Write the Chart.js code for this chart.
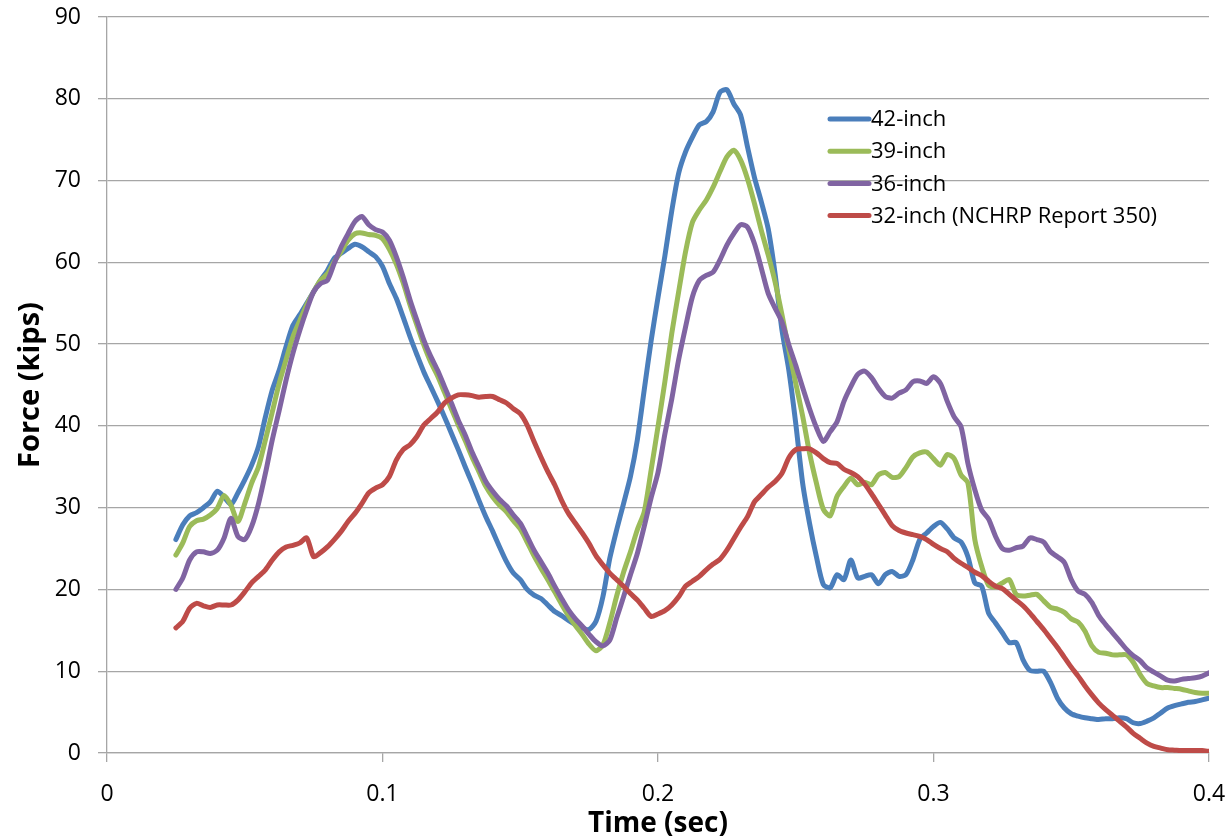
<!DOCTYPE html>
<html>
<head>
<meta charset="utf-8">
<script src="https://cdn.jsdelivr.net/npm/chart.js@4.4.0/dist/chart.umd.min.js"></script>
<style>
    html, body { margin: 0; padding: 0; background: #fff; }
    canvas { display: block; }
</style>
</head>
<body>
<canvas id="forceChart" width="1229" height="838"></canvas>
<script>
// Time (sec), one sample every 2.5 ms
const times = [
    0.025, 0.0275, 0.03, 0.0325, 0.035, 0.0375, 0.04, 0.0425, 0.045, 0.0475,
    0.05, 0.0525, 0.055, 0.0575, 0.06, 0.0625, 0.065, 0.0675, 0.07, 0.0725,
    0.075, 0.0775, 0.08, 0.0825, 0.085, 0.0875, 0.09, 0.0925, 0.095, 0.0975,
    0.1, 0.1025, 0.105, 0.1075, 0.11, 0.1125, 0.115, 0.1175, 0.12, 0.1225,
    0.125, 0.1275, 0.13, 0.1325, 0.135, 0.1375, 0.14, 0.1425, 0.145, 0.1475,
    0.15, 0.1525, 0.155, 0.1575, 0.16, 0.1625, 0.165, 0.1675, 0.17, 0.1725,
    0.175, 0.1775, 0.18, 0.1825, 0.185, 0.1875, 0.19, 0.1925, 0.195, 0.1975,
    0.2, 0.2025, 0.205, 0.2075, 0.21, 0.2125, 0.215, 0.2175, 0.22, 0.2225,
    0.225, 0.2275, 0.23, 0.2325, 0.235, 0.2375, 0.24, 0.2425, 0.245, 0.2475,
    0.25, 0.2525, 0.255, 0.2575, 0.26, 0.2625, 0.265, 0.2675, 0.27, 0.2725,
    0.275, 0.2775, 0.28, 0.2825, 0.285, 0.2875, 0.29, 0.2925, 0.295, 0.2975,
    0.3, 0.3025, 0.305, 0.3075, 0.31, 0.3125, 0.315, 0.3175, 0.32, 0.3225,
    0.325, 0.3275, 0.33, 0.3325, 0.335, 0.3375, 0.34, 0.3425, 0.345, 0.3475,
    0.35, 0.3525, 0.355, 0.3575, 0.36, 0.3625, 0.365, 0.3675, 0.37, 0.3725,
    0.375, 0.3775, 0.38, 0.3825, 0.385, 0.3875, 0.39, 0.3925, 0.395, 0.3975,
    0.4
];

// Force (kips) per barrier height
const force42 = [
    26.1, 27.9, 29.0, 29.4, 30.0, 30.7, 32.0, 31.3, 30.4, 31.8,
    33.4, 35.2, 37.5, 41.1, 44.4, 46.8, 49.7, 52.3, 53.6, 55.0,
    56.4, 57.8, 59.0, 60.5, 61.1, 61.7, 62.2, 61.9, 61.3, 60.7,
    59.5, 57.4, 55.6, 53.3, 50.9, 48.7, 46.6, 44.8, 43.0, 41.1,
    39.1, 37.1, 35.0, 33.0, 30.9, 28.9, 27.1, 25.2, 23.4, 22.0,
    21.2, 20.0, 19.3, 18.9, 18.1, 17.3, 16.8, 16.2, 15.7, 15.3,
    15.1, 16.1, 19.1, 23.8, 27.3, 30.5, 33.8, 38.3, 44.4, 50.4,
    55.7, 60.8, 66.3, 70.9, 73.5, 75.3, 76.8, 77.2, 78.4, 80.8,
    81.1, 79.4, 78.0, 74.1, 70.4, 67.4, 64.1, 58.6, 51.7, 46.8,
    40.3, 33.0, 28.1, 24.0, 20.6, 20.2, 21.8, 21.2, 23.6, 21.4,
    21.6, 21.8, 20.7, 21.8, 22.2, 21.6, 21.8, 23.6, 26.1, 26.9,
    27.7, 28.2, 27.4, 26.3, 25.8, 24.0, 20.8, 20.4, 17.1, 15.9,
    14.7, 13.5, 13.5, 11.4, 10.1, 10.0, 10.0, 8.6, 6.7, 5.5,
    4.8, 4.5, 4.3, 4.2, 4.1, 4.2, 4.2, 4.3, 4.2, 3.7,
    3.6, 3.9, 4.3, 4.9, 5.5, 5.8, 6.0, 6.2, 6.3, 6.5,
    6.7
];
const force39 = [
    24.2, 25.7, 27.7, 28.4, 28.6, 29.1, 29.9, 31.5, 30.3, 28.3,
    30.5, 33.0, 35.0, 38.3, 41.7, 45.2, 48.1, 50.9, 52.9, 54.8,
    56.4, 57.8, 58.6, 60.1, 61.3, 62.7, 63.5, 63.6, 63.4, 63.3,
    62.9, 61.6, 59.8, 57.5, 54.8, 52.3, 49.9, 47.8, 46.1, 44.1,
    42.1, 40.1, 38.2, 36.2, 34.4, 32.6, 31.3, 30.3, 29.5, 28.4,
    27.4, 25.8, 24.1, 22.6, 21.2, 19.7, 18.2, 16.8, 15.6, 14.5,
    13.3, 12.5, 13.2, 15.9, 19.2, 22.1, 24.6, 27.3, 29.5, 34.6,
    39.9, 45.4, 51.3, 56.4, 61.3, 64.9, 66.4, 67.6, 69.2, 71.1,
    72.9, 73.7, 72.5, 70.2, 67.2, 63.9, 60.9, 57.6, 53.6, 49.3,
    45.2, 41.2, 36.7, 33.0, 29.8, 29.0, 31.4, 32.6, 33.6, 32.8,
    33.1, 32.8, 34.0, 34.3, 33.7, 33.8, 34.9, 36.2, 36.7, 36.8,
    36.0, 35.2, 36.5, 36.0, 34.0, 33.0, 26.1, 22.8, 20.5, 20.3,
    20.8, 21.2, 19.4, 19.2, 19.3, 19.4, 18.6, 17.8, 17.6, 17.2,
    16.4, 16.0, 14.9, 13.1, 12.3, 12.2, 12.0, 12.0, 12.0, 11.1,
    9.6, 8.5, 8.2, 8.0, 8.0, 7.9, 7.8, 7.6, 7.4, 7.3,
    7.3
];
const force36 = [
    20.0, 21.4, 23.6, 24.6, 24.6, 24.4, 24.8, 26.3, 28.7, 26.5,
    26.1, 27.7, 30.5, 34.2, 38.3, 41.9, 45.6, 48.9, 51.7, 54.2,
    56.4, 57.4, 57.8, 59.9, 61.9, 63.5, 65.0, 65.6, 64.6, 64.0,
    63.7, 62.7, 60.7, 58.2, 55.4, 52.9, 50.5, 48.5, 46.8, 44.8,
    42.8, 40.7, 38.9, 36.8, 35.0, 33.2, 32.0, 31.0, 30.2, 29.1,
    28.1, 26.5, 24.8, 23.4, 22.0, 20.4, 18.9, 17.5, 16.4, 15.5,
    14.5, 13.6, 13.1, 13.8, 16.5, 19.1, 21.8, 24.4, 27.7, 31.2,
    34.3, 39.0, 43.3, 48.1, 52.1, 55.8, 57.8, 58.4, 58.8, 60.3,
    62.1, 63.5, 64.6, 64.3, 62.3, 59.3, 56.2, 54.4, 52.7, 49.9,
    47.4, 44.7, 42.1, 39.8, 38.1, 39.3, 40.5, 43.0, 44.8, 46.3,
    46.7, 45.9, 44.6, 43.6, 43.4, 44.0, 44.4, 45.4, 45.5, 45.2,
    46.0, 45.2, 43.0, 41.1, 39.9, 35.4, 32.2, 29.7, 28.6, 26.5,
    25.0, 24.8, 25.1, 25.3, 26.3, 26.1, 25.8, 24.6, 24.0, 23.3,
    21.2, 19.8, 19.4, 18.4, 16.8, 15.7, 14.7, 13.7, 12.7, 11.9,
    11.3, 10.4, 9.9, 9.4, 8.9, 8.8, 9.0, 9.1, 9.2, 9.4,
    9.8
];
const force32 = [
    15.3, 16.1, 17.7, 18.3, 18.0, 17.8, 18.1, 18.1, 18.1, 18.7,
    19.7, 20.8, 21.6, 22.4, 23.6, 24.6, 25.2, 25.4, 25.7, 26.3,
    24.0, 24.5, 25.2, 26.1, 27.1, 28.3, 29.3, 30.5, 31.8, 32.4,
    32.8, 33.8, 35.8, 37.1, 37.7, 38.7, 40.1, 40.9, 41.7, 42.8,
    43.4, 43.8, 43.8, 43.7, 43.5, 43.6, 43.6, 43.2, 42.8, 42.1,
    41.5, 40.1, 38.1, 36.2, 34.4, 32.8, 30.9, 29.3, 28.1, 26.9,
    25.6, 24.1, 23.0, 22.0, 21.2, 20.4, 19.5, 18.7, 17.7, 16.7,
    17.0, 17.4, 18.1, 19.1, 20.4, 21.0, 21.6, 22.4, 23.1, 23.7,
    24.8, 26.2, 27.6, 28.9, 30.7, 31.6, 32.5, 33.2, 34.2, 36.1,
    37.1, 37.2, 37.2, 36.7, 36.0, 35.5, 35.4, 34.7, 34.3, 33.8,
    32.9, 31.7, 30.4, 29.1, 27.8, 27.2, 26.9, 26.7, 26.5, 26.1,
    25.5, 25.0, 24.6, 23.8, 23.2, 22.7, 22.1, 21.7, 21.0, 20.4,
    20.1, 19.4, 18.7, 18.0, 17.1, 16.1, 15.1, 14.0, 12.9, 11.7,
    10.5, 9.4, 8.2, 7.1, 6.1, 5.3, 4.6, 3.9, 3.2, 2.4,
    1.8, 1.2, 0.8, 0.6, 0.4, 0.35, 0.3, 0.3, 0.3, 0.3,
    0.2
];

const seriesLabels = ["42-inch", "39-inch", "36-inch", "32-inch (NCHRP Report 350)"];
const xTickLabels = ["0", "0.1", "0.2", "0.3", "0.4"];
const yTickLabels = ["0", "10", "20", "30", "40", "50", "60", "70", "80", "90"];

const COLORS = ["#4a7ebb", "#9bbb59", "#8064a2", "#be4b48"];
const GRID = "#a6a6a6";
const FONT = "'Open Sans', 'Liberation Sans', sans-serif";

function toPoints(values) {
    return times.map((t, i) => ({ x: t, y: values[i] }));
}

// legend drawn inside the plot, no box, like the spreadsheet original
const insideLegend = {
    id: "insideLegend",
    afterDatasetsDraw(chart) {
        const ctx = chart.ctx;
        const x0 = 830, y0 = 119, rowH = 32.2, lineLen = 39;
        ctx.save();
        ctx.font = "22px " + FONT;
        ctx.textBaseline = "middle";
        ctx.textAlign = "left";
        chart.data.datasets.forEach((ds, i) => {
            const y = y0 + i * rowH;
            ctx.strokeStyle = ds.borderColor;
            ctx.lineWidth = 5;
            ctx.lineCap = "round";
            ctx.beginPath();
            ctx.moveTo(x0, y);
            ctx.lineTo(x0 + lineLen, y);
            ctx.stroke();
            ctx.fillStyle = "#000";
            ctx.fillText(ds.label, x0 + lineLen + 2, y + 1);
        });
        ctx.restore();
    }
};

const forces = [force42, force39, force36, force32];

new Chart(document.getElementById("forceChart"), {
    type: "line",
    data: {
        datasets: forces.map((vals, i) => ({
            label: seriesLabels[i],
            data: toPoints(vals),
            borderColor: COLORS[i],
            borderWidth: 5,
            pointRadius: 0,
            tension: 0.25,
            borderJoinStyle: "round",
            borderCapStyle: "round",
            fill: false,
            order: forces.length - i
        }))
    },
    options: {
        responsive: false,
        animation: false,
        layout: { padding: { left: 0, right: 20, top: 17, bottom: 0 } },
        plugins: {
            legend: { display: false },
            tooltip: { enabled: false }
        },
        scales: {
            x: {
                type: "linear",
                min: 0,
                max: 0.4,
                afterFit: (s) => {
                    s.height = 85;
                    s.paddingLeft = 0;
                    s.paddingRight = 0;
                },
                ticks: {
                    stepSize: 0.1,
                    autoSkip: false,
                    maxRotation: 0,
                    padding: 19,
                    color: "#000",
                    font: { family: FONT, size: 23 },
                    callback: (v, i) => xTickLabels[i]
                },
                grid: {
                    drawOnChartArea: false,
                    drawTicks: true,
                    tickLength: 9,
                    color: GRID,
                    lineWidth: 1.3
                },
                border: { color: GRID, width: 1.3 },
                title: {
                    display: true,
                    text: "Time (sec)",
                    color: "#000",
                    font: { family: FONT, size: 28, weight: "bold", lineHeight: 1.0 },
                    padding: { top: 0, bottom: 0 }
                }
            },
            y: {
                min: 0,
                max: 90,
                afterFit: (s) => {
                    s.width = 107;
                    s.paddingTop = 0;
                    s.paddingBottom = 0;
                },
                ticks: {
                    stepSize: 10,
                    padding: 17,
                    color: "#000",
                    font: { family: FONT, size: 23 },
                    callback: (v, i) => yTickLabels[i]
                },
                grid: {
                    tickLength: 9,
                    color: GRID,
                    lineWidth: 1.3
                },
                border: { color: GRID, width: 1.3 },
                title: {
                    display: true,
                    text: "Force (kips)",
                    color: "#000",
                    font: { family: FONT, size: 29, weight: "bold", lineHeight: 1.2 },
                    padding: { top: 13, bottom: 0 }
                }
            }
        }
    },
    plugins: [insideLegend]
});
</script>
</body>
</html>
